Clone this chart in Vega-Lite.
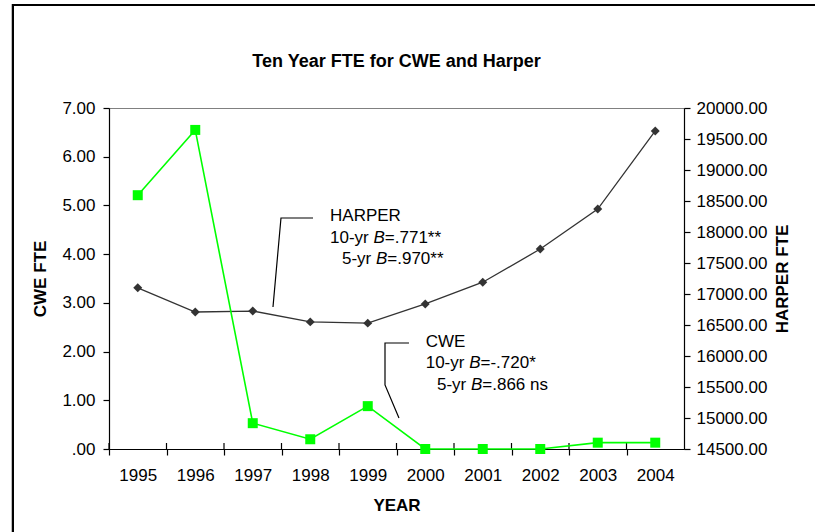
{
  "$schema": "https://vega.github.io/schema/vega-lite/v6.json",
  "width": 575,
  "height": 341,
  "autosize": {"type": "none"},
  "padding": {"left": 109, "top": 108, "right": 131, "bottom": 83},
  "background": "white",
  "config": {
    "font": "Liberation Sans",
    "view": {"stroke": "#808080", "strokeWidth": 1},
    "axis": {
      "labelFont": "Liberation Sans", "labelFontSize": 17, "labelColor": "black",
      "titleFont": "Liberation Sans", "titleFontSize": 17, "titleFontWeight": "bold", "titleColor": "black",
      "domainColor": "black", "tickColor": "black", "grid": false, "tickSize": 6, "domainWidth": 1.2, "tickWidth": 1.2
    }
  },
  "title": {"text": "Ten Year FTE for CWE and Harper", "fontSize": 18, "fontWeight": "bold", "offset": 0, "dy": 76, "baseline": "middle", "anchor": "middle", "frame": "group", "color": "black", "font": "Liberation Sans"},
  "datasets": {
    "fte": [
      {"year": 1995, "cwe": 5.21, "harper": 17100},
      {"year": 1996, "cwe": 6.55, "harper": 16710},
      {"year": 1997, "cwe": 0.53, "harper": 16725},
      {"year": 1998, "cwe": 0.2, "harper": 16550},
      {"year": 1999, "cwe": 0.88, "harper": 16530},
      {"year": 2000, "cwe": 0.0, "harper": 16840},
      {"year": 2001, "cwe": 0.0, "harper": 17190},
      {"year": 2002, "cwe": 0.0, "harper": 17725},
      {"year": 2003, "cwe": 0.13, "harper": 18370},
      {"year": 2004, "cwe": 0.13, "harper": 19630}
    ],
    "cweTicks": [{"cwe": 0}, {"cwe": 1}, {"cwe": 2}, {"cwe": 3}, {"cwe": 4}, {"cwe": 5}, {"cwe": 6}, {"cwe": 7}],
    "harperTicks": [{"harper": 14500}, {"harper": 15000}, {"harper": 15500}, {"harper": 16000}, {"harper": 16500}, {"harper": 17000}, {"harper": 17500}, {"harper": 18000}, {"harper": 18500}, {"harper": 19000}, {"harper": 19500}, {"harper": 20000}],
    "leaders": [
      {"grp": "H", "i": 1, "year": 1998.048, "cwe": 4.742},
      {"grp": "H", "i": 2, "year": 1997.491, "cwe": 4.742},
      {"grp": "H", "i": 3, "year": 1997.352, "cwe": 2.915},
      {"grp": "C", "i": 1, "year": 1999.717, "cwe": 2.176},
      {"grp": "C", "i": 2, "year": 1999.3, "cwe": 2.176},
      {"grp": "C", "i": 3, "year": 1999.3, "cwe": 1.314},
      {"grp": "C", "i": 4, "year": 1999.543, "cwe": 0.636}
    ],
    "notes": [
      {"year": 1998.344, "cwe": 4.78, "label": "HARPER"},
      {"year": 1998.344, "cwe": 4.34, "label": "10-yr"},
      {"year": 1999.297, "cwe": 4.34, "label": "=.771**"},
      {"year": 1998.552, "cwe": 3.9, "label": "5-yr"},
      {"year": 1999.34, "cwe": 3.9, "label": "=.970**"},
      {"year": 2000.008, "cwe": 2.2, "label": "CWE"},
      {"year": 2000.008, "cwe": 1.76, "label": "10-yr"},
      {"year": 2000.961, "cwe": 1.76, "label": "=-.720*"},
      {"year": 2000.204, "cwe": 1.31, "label": "5-yr"},
      {"year": 2000.992, "cwe": 1.31, "label": "=.866 ns"}
    ],
    "notesB": [
      {"year": 1999.099, "cwe": 4.34, "label": "B"},
      {"year": 1999.143, "cwe": 3.9, "label": "B"},
      {"year": 2000.764, "cwe": 1.76, "label": "B"},
      {"year": 2000.796, "cwe": 1.31, "label": "B"}
    ]
  },
  "encoding": {
    "x": {
      "field": "year", "type": "quantitative",
      "scale": {"domain": [1994.5, 2004.5], "nice": false, "zero": false},
      "axis": {
        "title": "YEAR", "values": [1995, 1996, 1997, 1998, 1999, 2000, 2001, 2002, 2003, 2004, 2005],
        "labelExpr": "datum.value > 2004 ? '' : format(datum.value, 'd')",
        "tickOffset": -28.75, "labelOffset": 28.75, "labelPadding": 12, "titlePadding": 14,
        "labelFlush": false, "labelOverlap": false
      }
    }
  },
  "layer": [
    {
      "encoding": {
        "y": {
          "field": "harper", "type": "quantitative",
          "scale": {"domain": [14500, 20000], "nice": false, "zero": false},
          "axis": {
            "orient": "right", "title": "HARPER FTE", "format": ".2f",
            "values": [14500, 15000, 15500, 16000, 16500, 17000, 17500, 18000, 18500, 19000, 19500, 20000],
            "labelPadding": 6, "titlePadding": 8, "titleAngle": 270, "titleBaseline": "top", "labelFlush": false, "labelOverlap": false
          }
        }
      },
      "layer": [
        {
          "data": {"name": "harperTicks"},
          "mark": {"type": "rule", "color": "black", "strokeWidth": 1.2},
          "encoding": {"x": {"datum": 2004.396, "type": "quantitative"}, "x2": {"datum": 2004.5}}
        },
        {"data": {"name": "fte"}, "mark": {"type": "line", "color": "#333333", "strokeWidth": 1.3}},
        {"data": {"name": "fte"}, "mark": {"type": "point", "shape": "diamond", "filled": true, "color": "#333333", "size": 80, "opacity": 1}}
      ]
    },
    {
      "encoding": {
        "y": {
          "field": "cwe", "type": "quantitative",
          "scale": {"domain": [0, 7], "nice": false},
          "axis": {
            "orient": "left", "title": "CWE FTE", "values": [0, 1, 2, 3, 4, 5, 6, 7],
            "labelExpr": "datum.value == 0 ? '.00' : format(datum.value, '.2f')",
            "labelPadding": 8, "titlePadding": 12, "labelFlush": false, "labelOverlap": false
          }
        }
      },
      "layer": [
        {
          "data": {"name": "fte"},
          "mark": {"type": "rect", "filled": false, "color": "black", "strokeWidth": 2},
          "encoding": {
            "x": {"datum": 1992.83, "type": "quantitative"},
            "x2": {"datum": 2012},
            "y": {"datum": 9.114, "type": "quantitative"},
            "y2": {"datum": -4}
          }
        },
        {
          "data": {"name": "cweTicks"},
          "mark": {"type": "rule", "color": "black", "strokeWidth": 1.2},
          "encoding": {"x": {"datum": 1994.5, "type": "quantitative"}, "x2": {"datum": 1994.604}}
        },
        {
          "data": {"name": "fte"},
          "mark": {"type": "rule", "color": "black", "strokeWidth": 1.2, "xOffset": -28.75},
          "encoding": {"y": {"datum": 0, "type": "quantitative"}, "y2": {"datum": 0.123}}
        },
        {"data": {"name": "fte"}, "mark": {"type": "line", "color": "#00FF00", "strokeWidth": 1.6}},
        {"data": {"name": "fte"}, "mark": {"type": "point", "shape": "square", "filled": true, "color": "#00FF00", "size": 100, "opacity": 1}},
        {
          "data": {"name": "leaders"},
          "mark": {"type": "line", "color": "black", "strokeWidth": 1.2},
          "encoding": {"detail": {"field": "grp"}, "order": {"field": "i", "type": "quantitative"}}
        },
        {
          "data": {"name": "notes"},
          "mark": {"type": "text", "align": "left", "baseline": "middle", "fontSize": 17, "color": "black", "font": "Liberation Sans"},
          "encoding": {"text": {"field": "label"}}
        },
        {
          "data": {"name": "notesB"},
          "mark": {"type": "text", "align": "left", "baseline": "middle", "fontSize": 17, "fontStyle": "italic", "color": "black", "font": "Liberation Sans"},
          "encoding": {"text": {"field": "label"}}
        }
      ]
    }
  ],
  "resolve": {"scale": {"y": "independent"}}
}
